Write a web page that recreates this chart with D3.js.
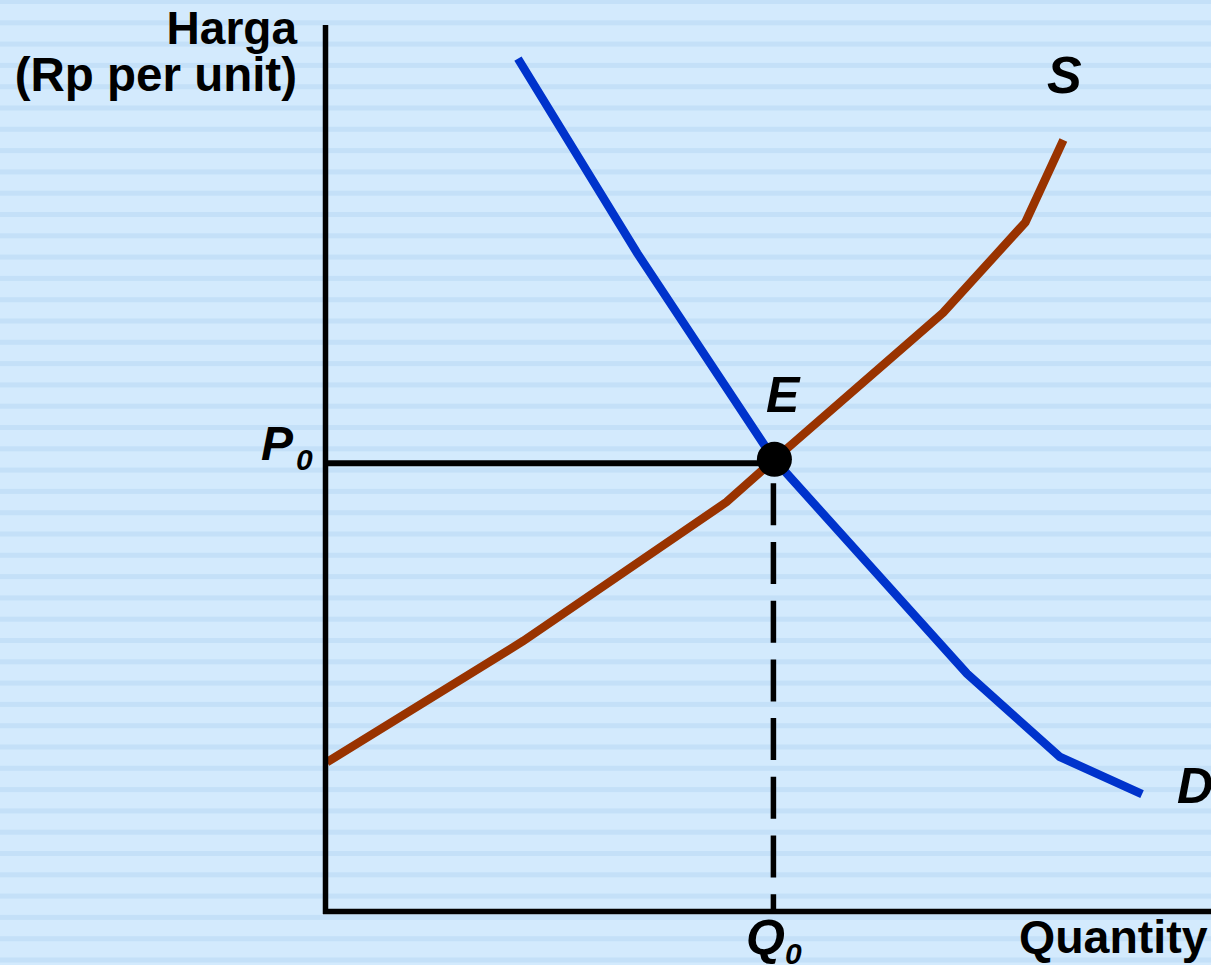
<!DOCTYPE html>
<head>
  <title>Harga vs Quantity</title>
  <meta charset="utf-8">
<style>
body, html {
    margin: 0;
    padding: 0;
    background: #d3eafd;
    overflow: hidden;
}
.lbl {
  font-family: "Liberation Sans", Arial, sans-serif;
  font-weight: bold;
  fill: #000;
}
.it { font-style: italic; }
.curve {
  fill: none;
  stroke-width: 8.5px;
  stroke-linejoin: miter;
}
</style>
</head>
<body>
<div id="chart"></div>
<script src="https://d3js.org/d3.v7.min.js"></script>
<script type="text/javascript">

// data (quantity, price) in chart units 0..100
var demandQ = [21.6, 35.1, 50.5, 72.4, 82.9, 92.2];
var demandP = [96.2, 74.2, 51.0, 26.7, 17.3, 13.1];
var supplyQ = [0, 22.2, 45.2, 50.5, 69.7, 79.0, 83.3];
var supplyP = [16.7, 30.4, 46.1, 50.8, 67.5, 77.7, 87.0];
var eqQ = 50.5, eqP = 50.7;

var W = 1211, H = 965;
var x0 = 327, y0 = 910;

var svg = d3.select("#chart").append("svg")
    .attr("width", W)
    .attr("height", H);

// striped background
svg.append("rect").attr("width", W).attr("height", H).attr("fill", "#d3eafd");
svg.selectAll("rect.stripe")
  .data(d3.range(0, 46))
  .enter().append("rect")
    .attr("class", "stripe")
    .attr("x", 0)
    .attr("y", function(d) { return d * 21.3 - 1; })
    .attr("width", W)
    .attr("height", 5)
    .attr("fill", "#c4e0f8");

var x = d3.scaleLinear().domain([0, 100]).range([x0, 1211]);
var y = d3.scaleLinear().domain([0, 100]).range([y0, 25]);

var line = d3.line()
    .x(function(d) { return x(d[0]); })
    .y(function(d) { return y(d[1]); });

// dashed Q0 line
svg.append("line")
    .attr("x1", x(eqQ)).attr("x2", x(eqQ))
    .attr("y1", y(eqP) + 22).attr("y2", y0)
    .attr("stroke", "#000")
    .attr("stroke-width", 5.5)
    .attr("stroke-dasharray", "42,16.7");

// P0 line
svg.append("line")
    .attr("x1", x0).attr("x2", x(eqQ))
    .attr("y1", y(eqP) + 2).attr("y2", y(eqP) + 2)
    .attr("stroke", "#000")
    .attr("stroke-width", 6);

// supply
svg.append("path")
    .datum(d3.zip(supplyQ, supplyP))
    .attr("class", "curve")
    .attr("stroke", "#993300")
    .attr("d", line);

// demand
svg.append("path")
    .datum(d3.zip(demandQ, demandP))
    .attr("class", "curve")
    .attr("stroke", "#0033cc")
    .attr("d", line);

// axes
svg.append("line")
    .attr("x1", x0 - 1.5).attr("x2", x0 - 1.5)
    .attr("y1", 25).attr("y2", y0 + 4)
    .attr("stroke", "#000").attr("stroke-width", 5.5);
svg.append("line")
    .attr("x1", x0 - 4).attr("x2", W)
    .attr("y1", y0 + 1.5).attr("y2", y0 + 1.5)
    .attr("stroke", "#000").attr("stroke-width", 5.5);

// equilibrium point
svg.append("circle")
    .attr("cx", x(eqQ) + 1)
    .attr("cy", y(eqP) - 2)
    .attr("r", 17.5)
    .attr("fill", "#000");

// labels
svg.append("text").attr("class", "lbl")
    .attr("x", 297).attr("y", 44)
    .attr("text-anchor", "end")
    .style("font-size", "46px")
    .text("Harga");
svg.append("text").attr("class", "lbl")
    .attr("x", 297).attr("y", 91)
    .attr("text-anchor", "end")
    .style("font-size", "47.5px")
    .text("(Rp per unit)");

svg.append("text").attr("class", "lbl it")
    .attr("x", 261).attr("y", 460)
    .style("font-size", "48px")
    .text("P");
svg.append("text").attr("class", "lbl it")
    .attr("x", 296).attr("y", 470)
    .style("font-size", "30px")
    .text("0");

svg.append("text").attr("class", "lbl it")
    .attr("x", 766).attr("y", 412)
    .style("font-size", "50px")
    .text("E");

svg.append("text").attr("class", "lbl it")
    .attr("x", 1047).attr("y", 93)
    .style("font-size", "52px")
    .text("S");

svg.append("text").attr("class", "lbl it")
    .attr("x", 1177).attr("y", 803)
    .style("font-size", "50px")
    .text("D");

svg.append("text").attr("class", "lbl it")
    .attr("x", 746).attr("y", 955)
    .style("font-size", "50px")
    .text("Q");
svg.append("text").attr("class", "lbl it")
    .attr("x", 785).attr("y", 964)
    .style("font-size", "30px")
    .text("0");

svg.append("text").attr("class", "lbl")
    .attr("x", 1019).attr("y", 953)
    .style("font-size", "46.5px")
    .text("Quantity");

</script>
</body>
